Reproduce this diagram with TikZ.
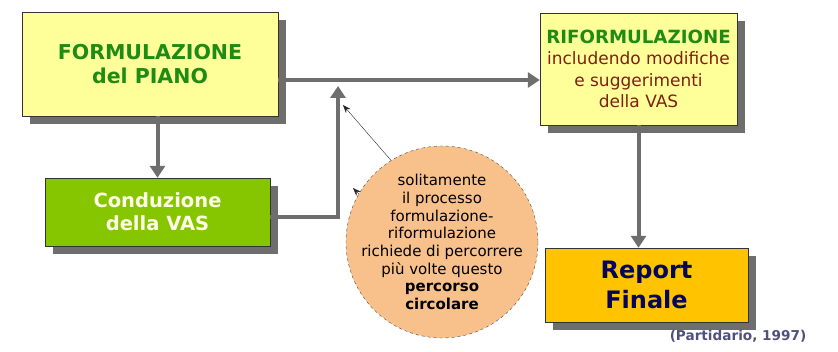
\documentclass[tikz,border=0pt]{standalone}
\usepackage{fontspec}
\setmainfont{DejaVu Sans}
\usepackage{tikz}
\usetikzlibrary{arrows.meta,shadows}
\definecolor{pale-yellow}{HTML}{FFFF99}
\definecolor{title-green}{HTML}{1E8C14}
\definecolor{vas-green}{HTML}{86C600}
\definecolor{note-brown}{HTML}{7F1F10}
\definecolor{report-gold}{HTML}{FFC300}
\definecolor{report-blue}{HTML}{05055A}
\definecolor{shade-gray}{HTML}{6E6E6E}
\definecolor{peach}{HTML}{F8C08A}
\definecolor{cite-blue}{HTML}{50507F}
\tikzset{
    shadow-box/.style = {draw=black!80, thin, rectangle, align=center, inner sep=0pt,
        drop shadow={shadow xshift=8pt, shadow yshift=-8pt, fill=shade-gray, opacity=1}},
    flow-arrow/.style = {draw=shade-gray, line width=4pt, -{Triangle[length=12pt,width=15pt]}},
    note-arrow/.style = {draw=black!85, thin, -{Stealth[length=8pt,width=6pt]}},
    note-circle/.style = {circle, draw=black!70, dashed, thin, fill=peach, minimum size=192pt, inner sep=0pt},
}

\begin{document}
\begin{tikzpicture}[x=1pt, y=-1pt]
\useasboundingbox (0,0) rectangle (838,352);

\node [shadow-box, fill=pale-yellow, minimum width=256pt, minimum height=104pt,
    font=\fontsize{20.5}{23.5}\selectfont\bfseries, text=title-green]
    (formulazione) at (150,64) {FORMULAZIONE\\del PIANO};
\node [shadow-box, fill=vas-green, minimum width=225pt, minimum height=68pt,
    font=\fontsize{19.5}{23}\selectfont\bfseries, text=yellow!10]
    (conduzione) at (157.5,212) {Conduzione\\della VAS};
\node [shadow-box, fill=pale-yellow, minimum width=197pt, minimum height=112pt,
    font=\fontsize{17}{21.5}\selectfont, text=note-brown]
    (riform) at (638.5,69) {\textcolor{title-green}{\fontsize{18.2}{21.5}\selectfont\bfseries RIFORMULAZIONE}\\includendo modifiche\\e suggerimenti\\della VAS};
\node [shadow-box, fill=report-gold, minimum width=203pt, minimum height=74pt,
    font=\fontsize{24}{30}\selectfont\bfseries, text=report-blue]
    (report) at (646.5,285) {Report\\Finale};

\node [note-circle] (circ) at (442,242) {};
\node [align=center, font=\fontsize{15}{17.7}\selectfont] (circ-text) at (circ.center)
    {solitamente\\il processo\\formulazione-\\riformulazione\\richiede di percorrere\\più volte questo\\\textbf{percorso}\\\textbf{circolare}};

\node [font=\fontsize{13.6}{16}\selectfont\bfseries, text=cite-blue] (cite) at (738,336) {(Partidario, 1997)};

% connectors
\coordinate (join) at (338,80);
\coordinate (merge) at (338,86);
\draw [flow-arrow] (formulazione.east |- join) -- (riform.west |- join);
\draw [flow-arrow] (formulazione.south -| conduzione.north) -- (conduzione.north);
\draw [flow-arrow] ([yshift=-5pt]conduzione.east) -| (merge);
\draw [flow-arrow] (riform.south) -- (riform.south |- report.north);

% notes
\coordinate (tip-a) at (343,105);
\coordinate (tip-b) at (353,188);
\draw [note-arrow] (circ.122) -- (tip-a);
\draw [note-arrow] (circ.150) -- (tip-b);
\end{tikzpicture}
\end{document}
